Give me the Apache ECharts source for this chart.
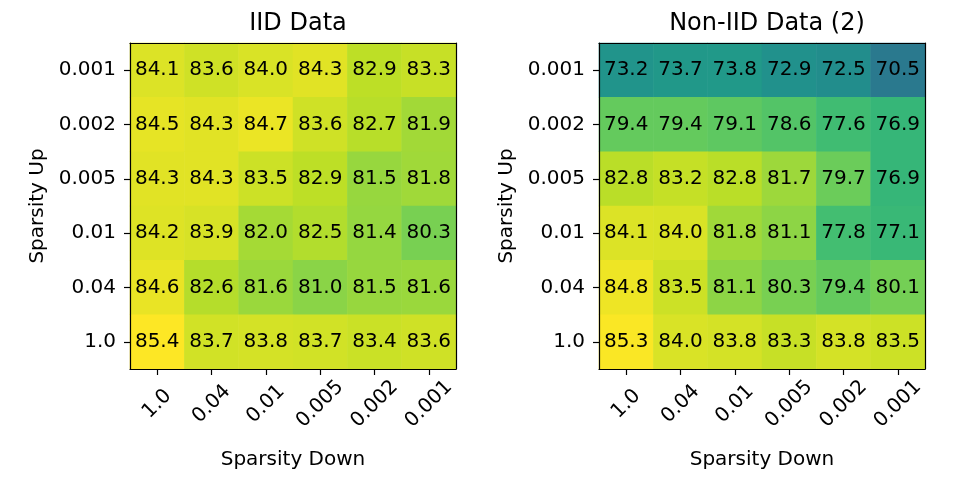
<!DOCTYPE html>
<html>
<head>
<meta charset="utf-8">
<script src="https://cdn.jsdelivr.net/npm/echarts@6/dist/echarts.min.js"></script>
<style>
  html, body { margin: 0; padding: 0; background: #fff; }
  #chart { width: 960px; height: 480px; }
</style>
</head>
<body>
<div id="chart"></div>
<script>
// categories
const sparsityDown = ['1.0', '0.04', '0.01', '0.005', '0.002', '0.001']
const sparsityUp = ['0.001', '0.002', '0.005', '0.01', '0.04', '1.0'] // top -> bottom

// accuracy rows, in the same order as sparsityUp
const iidValues = [
  [84.1, 83.6, 84.0, 84.3, 82.9, 83.3],
  [84.5, 84.3, 84.7, 83.6, 82.7, 81.9],
  [84.3, 84.3, 83.5, 82.9, 81.5, 81.8],
  [84.2, 83.9, 82.0, 82.5, 81.4, 80.3],
  [84.6, 82.6, 81.6, 81.0, 81.5, 81.6],
  [85.4, 83.7, 83.8, 83.7, 83.4, 83.6],
]
const nonIidValues = [
  [73.2, 73.7, 73.8, 72.9, 72.5, 70.5],
  [79.4, 79.4, 79.1, 78.6, 77.6, 76.9],
  [82.8, 83.2, 82.8, 81.7, 79.7, 76.9],
  [84.1, 84.0, 81.8, 81.1, 77.8, 77.1],
  [84.8, 83.5, 81.1, 80.3, 79.4, 80.1],
  [85.3, 84.0, 83.8, 83.3, 83.8, 83.5],
]

const viridis = ['#440154', '#482475', '#414487', '#355f8d', '#2a788e', '#21918c',
  '#22a884', '#44bf70', '#7ad151', '#bddf26', '#fde725']
const font = 'DejaVu Sans'
const lineStyle = { color: '#000', width: 1.2 }

function toCells(rows) {
  let out = []
  rows.forEach((row, y) => row.forEach((v, x) => out.push([x, y, v])))
  return out
}

function xAxisFor(gridIndex) {
  return {
    gridIndex,
    type: 'category',
    data: sparsityDown,
    z: 10,
    name: 'Sparsity Down',
    nameLocation: 'middle',
    nameGap: 81,
    nameTextStyle: { fontFamily: font, fontSize: 20, color: '#000' },
    axisLine: { show: true, lineStyle },
    axisTick: { show: true, alignWithLabel: true, length: 6, lineStyle },
    axisLabel: {
      rotate: 45, align: 'center', verticalAlign: 'middle', margin: 35,
      fontFamily: font, fontSize: 20, color: '#000', interval: 0,
    },
    splitArea: { show: false },
  }
}

function yAxisFor(gridIndex) {
  return {
    gridIndex,
    type: 'category',
    data: sparsityUp,
    inverse: true,
    z: 10,
    name: 'Sparsity Up',
    nameLocation: 'middle',
    nameGap: 82,
    nameTextStyle: { fontFamily: font, fontSize: 20, color: '#000' },
    axisLine: { show: true, lineStyle },
    axisTick: { show: true, alignWithLabel: true, length: 6, lineStyle },
    axisLabel: { margin: 14, fontFamily: font, fontSize: 20, color: '#000', interval: 0 },
    splitArea: { show: false },
  }
}

// plain frame lines on the top and right of each panel
function frameAxis(gridIndex, position, data) {
  return {
    gridIndex, position, type: 'category', data, z: 10,
    axisLine: { show: true, onZero: false, lineStyle },
    axisTick: { show: false }, axisLabel: { show: false }, splitLine: { show: false },
  }
}

function heat(idx, rows) {
  return {
    type: 'heatmap',
    xAxisIndex: idx,
    yAxisIndex: idx,
    data: toCells(rows),
    label: {
      show: true,
      fontFamily: font,
      fontSize: 20,
      color: '#000',
      formatter: (p) => p.value[2].toFixed(1),
    },
    emphasis: { disabled: true },
  }
}

let chart = echarts.init(document.getElementById('chart'))
chart.setOption({
  animation: false,
  backgroundColor: '#fff',
  title: [
    { text: 'IID Data', left: 293, top: 7, textAlign: 'center',
      textStyle: { fontFamily: font, fontSize: 24, fontWeight: 'normal', color: '#000' } },
    { text: 'Non-IID Data (2)', left: 762, top: 7, textAlign: 'center',
      textStyle: { fontFamily: font, fontSize: 24, fontWeight: 'normal', color: '#000' } },
  ],
  grid: [
    { left: 130, top: 43, width: 326, height: 326 },
    { left: 599, top: 43, width: 326, height: 326 },
  ],
  xAxis: [xAxisFor(0), xAxisFor(1), frameAxis(0, 'top', sparsityDown), frameAxis(1, 'top', sparsityDown)],
  yAxis: [yAxisFor(0), yAxisFor(1), frameAxis(0, 'right', sparsityUp), frameAxis(1, 'right', sparsityUp)],
  visualMap: {
    show: false,
    type: 'continuous',
    min: 60.4,
    max: 85.4,
    dimension: 2,
    seriesIndex: [0, 1],
    inRange: { color: viridis },
  },
  series: [heat(0, iidValues), heat(1, nonIidValues)],
})
</script>
</body>
</html>
